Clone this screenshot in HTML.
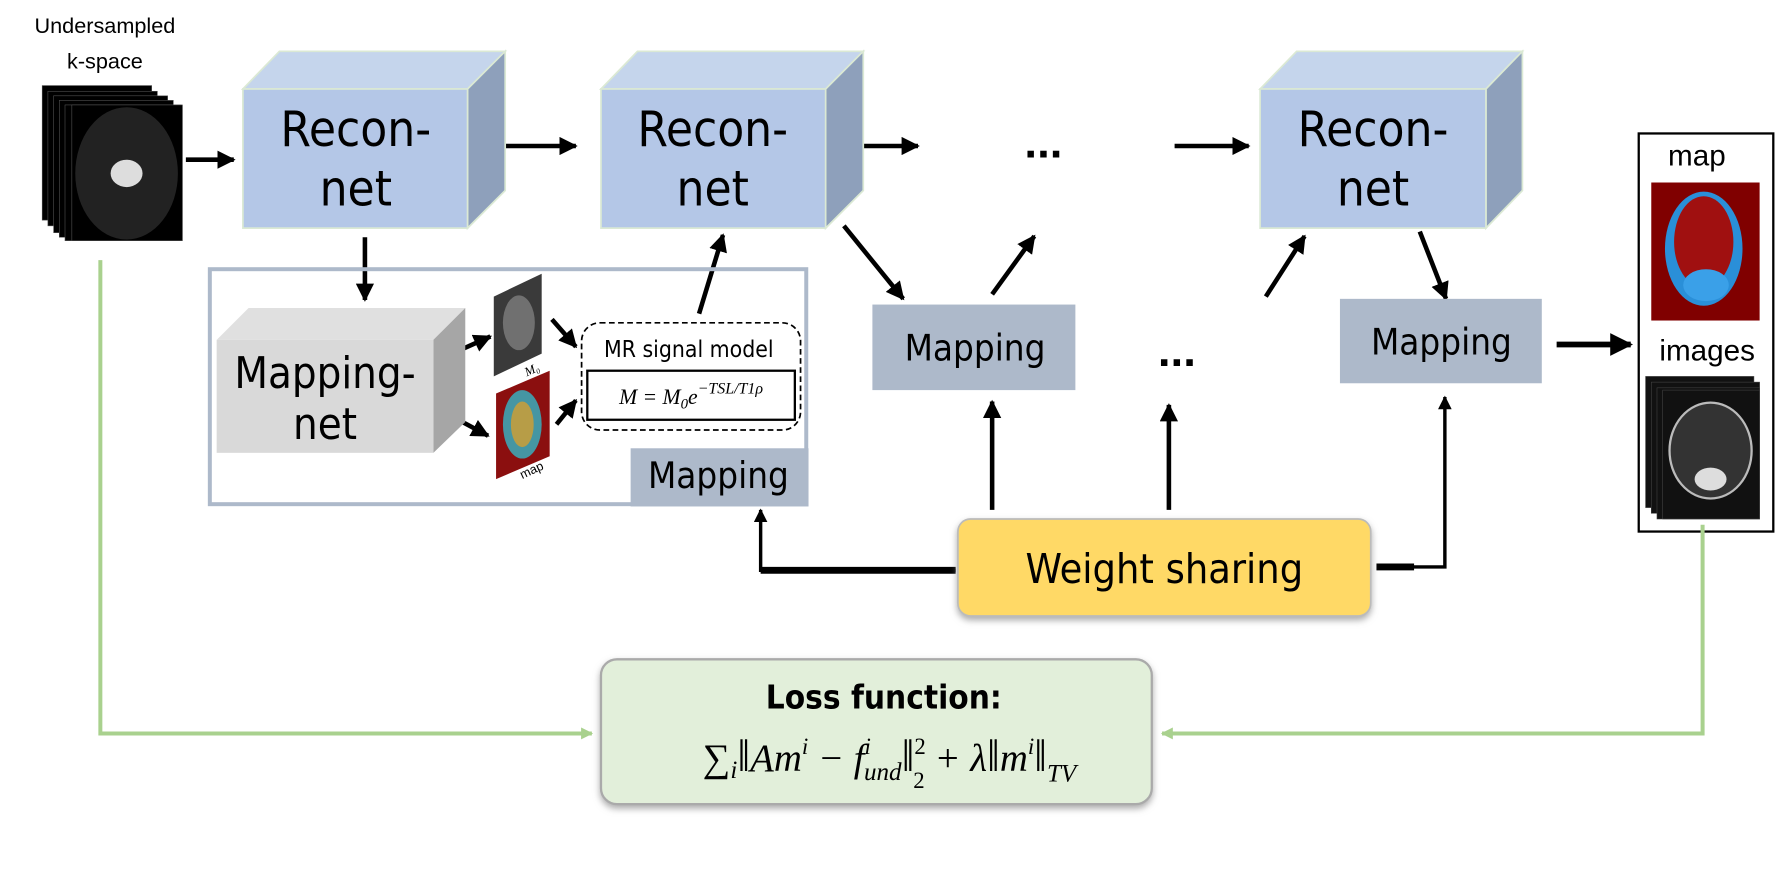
<!DOCTYPE html>
<html><head><meta charset="utf-8"><style>
html,body{margin:0;padding:0;background:#fff;}
svg{display:block;}
.h{font-family:"Comic Sans MS","DejaVu Sans Condensed","Liberation Sans Narrow","Liberation Sans",sans-serif;}
.s{font-family:"Liberation Sans",sans-serif;}
.m{font-family:"Liberation Serif",serif;font-style:italic;}
</style></head><body>
<svg width="1779" height="892" viewBox="0 0 1560 782" preserveAspectRatio="none" xmlns="http://www.w3.org/2000/svg">
<defs>
<marker id="a" viewBox="0 0 10 10" refX="9" refY="5" markerWidth="4" markerHeight="4" orient="auto"><path d="M0,0L10,5L0,10z" fill="#000"/></marker>
<marker id="g" viewBox="0 0 10 10" refX="9" refY="5" markerWidth="3" markerHeight="3" orient="auto"><path d="M0,0L10,5L0,10z" fill="#a9d18e"/></marker>
<filter id="sh" x="-10%" y="-10%" width="120%" height="130%"><feDropShadow dx="0" dy="3" stdDeviation="3" flood-color="#888" flood-opacity="0.7"/></filter>
</defs>

<text x="92" y="29" font-size="19" text-anchor="middle" class="s">Undersampled</text>
<text x="92" y="60" font-size="19" text-anchor="middle" class="s">k-space</text>
<g fill="#000" stroke="#555" stroke-width="0.5">
<rect x="37" y="75" width="96" height="118"/><rect x="42" y="80" width="96" height="118"/><rect x="47" y="84" width="100" height="120"/><rect x="52" y="88" width="100" height="120"/><rect x="57" y="92" width="102" height="119"/><rect x="63" y="92" width="97" height="119"/>
</g>
<ellipse cx="111" cy="152" rx="45" ry="58" fill="#222"/>
<ellipse cx="111" cy="152" rx="14" ry="12" fill="#ddd"/>

<g stroke="#000" stroke-width="4" fill="none" marker-end="url(#a)">
<line x1="163" y1="140" x2="205" y2="140"/>
<line x1="440" y1="128" x2="505" y2="128"/>
<line x1="745" y1="128" x2="805" y2="128"/>
<line x1="1030" y1="128" x2="1095" y2="128"/>
<line x1="320" y1="208" x2="320" y2="263"/>
<line x1="401" y1="308" x2="430" y2="295"/>
<line x1="400" y1="367" x2="428" y2="382"/>
<line x1="484" y1="280" x2="505" y2="304"/>
<line x1="488" y1="372" x2="505" y2="351"/>
<line x1="613" y1="275" x2="634" y2="206"/>
<line x1="740" y1="198" x2="792" y2="262"/>
<line x1="870" y1="258" x2="907" y2="207"/>
<line x1="1110" y1="260" x2="1144" y2="207"/>
<line x1="1245" y1="203" x2="1268" y2="262"/>
<line x1="870" y1="447" x2="870" y2="352"/>
<line x1="1025" y1="447" x2="1025" y2="355"/>
<line x1="1365" y1="302" x2="1430" y2="302" stroke-width="5"/>
</g>
<polyline points="1210,497 1267,497 1267,348" stroke="#000" stroke-width="3" fill="none" marker-end="url(#a)"/>
<polyline points="838,500 667,500 667,447" stroke="#000" stroke-width="3" fill="none" marker-end="url(#a)"/>
<line x1="1207" y1="497" x2="1240" y2="497" stroke="#000" stroke-width="6"/>
<line x1="667" y1="500" x2="838" y2="500" stroke="#000" stroke-width="6"/>

<g stroke="#dbe9d4" stroke-width="1.5">
<polygon points="213,78 245,45 443,45 410,78" fill="#c5d5ec"/><polygon points="410,78 443,45 443,167 410,200" fill="#8ea0bb"/><rect x="213" y="78" width="197" height="122" fill="#b4c7e7"/>
<polygon points="527,78 559,45 757,45 724,78" fill="#c5d5ec"/><polygon points="724,78 757,45 757,167 724,200" fill="#8ea0bb"/><rect x="527" y="78" width="197" height="122" fill="#b4c7e7"/>
<polygon points="1105,78 1137,45 1335,45 1303,78" fill="#c5d5ec"/><polygon points="1303,78 1335,45 1335,167 1303,200" fill="#8ea0bb"/><rect x="1105" y="78" width="198" height="122" fill="#b4c7e7"/>
</g>
<g class="h" font-size="43" text-anchor="middle">
<text x="312" y="128">Recon-</text><text x="312" y="180">net</text>
<text x="625" y="128">Recon-</text><text x="625" y="180">net</text>
<text x="1204" y="128">Recon-</text><text x="1204" y="180">net</text>
</g>
<text x="915" y="138" font-size="40" font-weight="bold" text-anchor="middle" class="s">...</text>
<text x="1032" y="321" font-size="40" font-weight="bold" text-anchor="middle" class="s">...</text>

<rect x="184" y="236" width="523" height="206" fill="none" stroke="#adb9ca" stroke-width="3.5"/>
<rect x="553" y="393" width="156" height="51" fill="#adb9ca"/>
<text x="630" y="428" font-size="32" text-anchor="middle" class="h">Mapping</text>
<polygon points="190,298 218,270 408,270 380,298" fill="#e0e0e0"/>
<polygon points="380,298 408,270 408,370 380,397" fill="#a6a6a6"/>
<rect x="190" y="298" width="190" height="99" fill="#d9d9d9"/>
<text x="285" y="340" font-size="38" text-anchor="middle" class="h">Mapping-</text>
<text x="285" y="385" font-size="38" text-anchor="middle" class="h">net</text>
<polygon points="433,260 475,240 475,310 433,330" fill="#3a3a3a"/>
<ellipse cx="455" cy="283" rx="14" ry="24" fill="#888" opacity="0.7"/>
<text x="462" y="330" font-size="11" class="m" transform="rotate(-25 462 330)">M₀</text>
<polygon points="435,345 482,325 482,400 435,420" fill="#8b0f0f"/>
<ellipse cx="458" cy="372" rx="17" ry="30" fill="#2ec4d6" opacity="0.75"/>
<ellipse cx="458" cy="372" rx="10" ry="20" fill="#e8a020" opacity="0.7"/>
<text x="458" y="420" font-size="11" class="s" transform="rotate(-25 458 420)">map</text>
<rect x="510" y="283" width="192" height="94" rx="16" fill="#fff" stroke="#000" stroke-width="1.5" stroke-dasharray="5,3"/>
<text x="604" y="313" font-size="20" text-anchor="middle" class="h">MR signal model</text>
<rect x="515" y="325" width="182" height="43" fill="#fff" stroke="#000" stroke-width="2"/>
<text x="606" y="354" font-size="19" text-anchor="middle" class="m">M = M<tspan font-size="13" dy="4">0</tspan><tspan dy="-4">e</tspan><tspan font-size="14" dy="-9">−TSL/T1ρ</tspan></text>

<rect x="765" y="267" width="178" height="75" fill="#adb9ca"/>
<text x="855" y="316" font-size="32" text-anchor="middle" class="h">Mapping</text>
<rect x="1175" y="262" width="177" height="74" fill="#adb9ca"/>
<text x="1264" y="311" font-size="32" text-anchor="middle" class="h">Mapping</text>

<rect x="1437" y="117" width="118" height="349" fill="#fff" stroke="#000" stroke-width="2"/>
<text x="1488" y="145" font-size="26" text-anchor="middle" class="s">map</text>
<rect x="1448" y="160" width="95" height="121" fill="#800000"/>
<ellipse cx="1494" cy="218" rx="34" ry="50" fill="#2a8fd8"/>
<ellipse cx="1494" cy="212" rx="26" ry="40" fill="#a01010"/>
<ellipse cx="1496" cy="250" rx="20" ry="14" fill="#3aa0e8"/>
<text x="1497" y="316" font-size="26" text-anchor="middle" class="s">images</text>
<g fill="#111" stroke="#444" stroke-width="0.5">
<rect x="1443" y="330" width="95" height="115"/><rect x="1448" y="335" width="95" height="115"/><rect x="1453" y="340" width="90" height="115"/><rect x="1458" y="342" width="85" height="113"/>
</g>
<ellipse cx="1500" cy="395" rx="36" ry="42" fill="#333" stroke="#bbb" stroke-width="2"/>
<ellipse cx="1500" cy="420" rx="14" ry="10" fill="#ddd"/>

<polyline points="88,228 88,643 519,643" stroke="#a9d18e" stroke-width="3.5" fill="none" marker-end="url(#g)"/>
<polyline points="1493,460 1493,643 1019,643" stroke="#a9d18e" stroke-width="3.5" fill="none" marker-end="url(#g)"/>

<rect x="840" y="455" width="362" height="85" rx="11" fill="#ffd966" stroke="#bbb" stroke-width="1.5" filter="url(#sh)"/>
<text x="1021" y="511" font-size="36" text-anchor="middle" class="h">Weight sharing</text>

<rect x="527" y="578" width="483" height="127" rx="14" fill="#e2efda" stroke="#aaa" stroke-width="2" filter="url(#sh)"/>
<text x="775" y="621" font-size="29" font-weight="bold" text-anchor="middle" class="h">Loss function:</text>
<text x="780" y="676" font-size="34" text-anchor="middle" class="m"><tspan font-style="normal">∑</tspan><tspan font-size="22" dy="6">i</tspan><tspan dy="-6" font-style="normal" font-size="40">‖</tspan>Am<tspan font-size="20" dy="-15">i</tspan><tspan dy="15"> − f</tspan><tspan font-size="20" dy="-15">i</tspan><tspan font-size="22" dx="-6" dy="23">und</tspan><tspan dy="-8" font-style="normal" font-size="40">‖</tspan><tspan font-size="20" dy="-15" font-style="normal">2</tspan><tspan font-size="20" dx="-11" dy="30" font-style="normal">2</tspan><tspan dy="-15"> + λ</tspan><tspan font-style="normal" font-size="40">‖</tspan>m<tspan font-size="20" dy="-15">i</tspan><tspan dy="15" font-style="normal" font-size="40">‖</tspan><tspan font-size="22" dy="9">TV</tspan></text>
</svg>
</body></html>
